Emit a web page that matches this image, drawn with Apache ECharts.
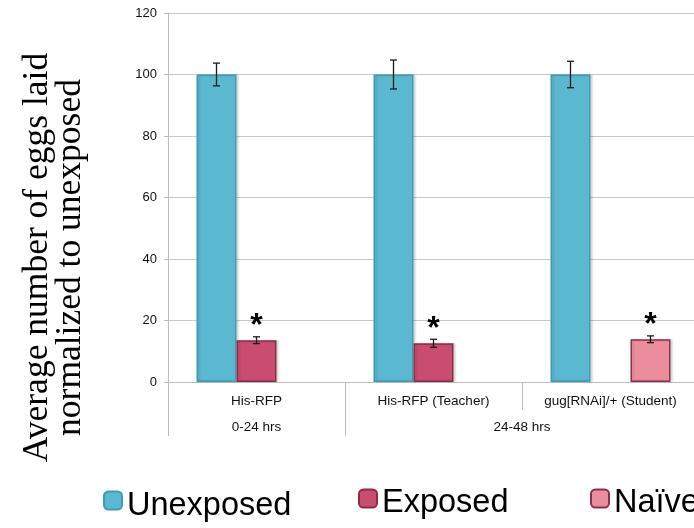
<!DOCTYPE html>
<html>
<head>
<meta charset="utf-8">
<script src="https://cdn.jsdelivr.net/npm/echarts@6/dist/echarts.min.js"></script>
<style>
html,body{margin:0;padding:0;background:#fff;}
#chart{width:694px;height:528px;}
</style>
</head>
<body>
<div id="chart"></div>
<script>
// ---- data ----
const categories = ['His-RFP', 'His-RFP (Teacher)', 'gug[RNAi]/+ (Student)'];
const groupLabels = ['', '0-24 hrs', '', '', '24-48 hrs', '', ''];
const seriesNames = ['Unexposed', 'Exposed', 'Naïve'];
const unexposed = [100, 100, 100];
const unexposedErr = [3.7, 4.7, 4.3];
const exposed = [13.6, 12.6, null];
const exposedErr = [1.1, 1.3, null];
const naive = [null, null, 13.9];
const naiveErr = [null, null, 1.1];
const yTicks = {min: 0, max: 120, interval: 20};

// ---- styling ----
const BAR_W = 40;
const colors = {
  Unexposed: {fill: '#5bb8d1', border: '#3f9bb2'},
  Exposed: {fill: '#c84d70', border: '#8a2c48'},
  'Naïve': {fill: '#ec8d9e', border: '#8a3048'}
};
const FONT = 'Liberation Sans, Arial, Helvetica, sans-serif';

const values = [unexposed, exposed, naive];
const errs = [unexposedErr, exposedErr, naiveErr];

const errData = [];
values.forEach((arr, s) => {
  arr.forEach((v, i) => {
    if (v != null && errs[s][i] != null) errData.push([i, v, errs[s][i], s]);
  });
});

function barSeries(name, data, withStar) {
  return {
    name: name,
    type: 'bar',
    xAxisIndex: 0,
    barWidth: BAR_W,
    barGap: '0%',
    data: data.map(v => v == null ? '-' : v),
    itemStyle: {
      color: colors[name].fill,
      borderColor: colors[name].border,
      borderWidth: 1.5,
      shadowColor: 'rgba(0,0,0,0.12)',
      shadowBlur: 2,
      shadowOffsetX: 2
    },
    label: withStar ? {
      show: true,
      position: 'top',
      distance: -2,
      formatter: '*',
      fontSize: 32,
      fontWeight: 'bold',
      fontFamily: FONT,
      color: '#000'
    } : {show: false},
    z: 2
  };
}

function legendFor(name, left, top, padTop) {
  return {
    data: [name],
    left: left,
    top: top,
    orient: 'horizontal',
    icon: 'roundRect',
    itemWidth: 18,
    itemHeight: 18,
    itemGap: 0,
    padding: 0,
    itemStyle: {borderWidth: 2},
    formatter: n => '{t|' + n + '}',
    textStyle: {
      fontSize: 32.5, color: '#000', fontFamily: FONT,
      rich: {t: {fontSize: 32.5, color: '#000', fontFamily: FONT, padding: [padTop, 0, 0, 0]}}
    }
  };
}

const chart = echarts.init(document.getElementById('chart'), null, {renderer: 'canvas'});
chart.setOption({
  animation: false,
  backgroundColor: '#fff',
  textStyle: {fontFamily: FONT},
  grid: {left: 168, right: -5, top: 13, bottom: 146, containLabel: false, outerBoundsMode: 'none'},
  legend: [
    legendFor('Unexposed', 103, 490, 12),
    legendFor('Exposed', 358, 487, 10),
    legendFor('Naïve', 590, 487, 10)
  ],
  xAxis: [
    {
      type: 'category',
      data: categories,
      position: 'bottom',
      axisLine: {show: true, lineStyle: {color: '#bdbdbd', width: 1}},
      axisTick: {show: true, length: 28, interval: 0, lineStyle: {color: '#bdbdbd'}},
      axisLabel: {interval: 0, margin: 12, fontSize: 13.5, color: '#111', fontFamily: FONT},
      splitLine: {show: false}
    },
    {
      type: 'category',
      data: groupLabels,
      boundaryGap: false,
      position: 'bottom',
      gridIndex: 0,
      axisLine: {show: false},
      axisTick: {show: true, length: 54, interval: (i) => i === 0 || i === 2, lineStyle: {color: '#bdbdbd'}},
      axisLabel: {interval: 0, margin: 38, fontSize: 13.5, color: '#111', fontFamily: FONT},
      splitLine: {show: false}
    }
  ],
  yAxis: {
    type: 'value',
    min: yTicks.min,
    max: yTicks.max,
    interval: yTicks.interval,
    axisLine: {show: true, lineStyle: {color: '#bdbdbd'}},
    axisTick: {show: true, length: 4, lineStyle: {color: '#bdbdbd'}},
    splitLine: {show: true, lineStyle: {color: '#c8c8c8', width: 1.2}},
    axisLabel: {fontSize: 13, color: '#111', margin: 11, fontFamily: FONT},
    name: 'Average number of eggs laid\nnormalized to unexposed',
    nameLocation: 'middle',
    nameRotate: 90,
    nameGap: 81,
    nameTextStyle: {
      fontFamily: 'Liberation Serif, Times New Roman, serif',
      fontSize: 35.5,
      lineHeight: 33,
      color: '#000',
      padding: [0, 120, 0, 0]
    }
  },
  series: [
    barSeries('Unexposed', unexposed, false),
    barSeries('Exposed', exposed, true),
    barSeries('Naïve', naive, true),
    {
      type: 'custom',
      name: 'errors',
      xAxisIndex: 0,
      data: errData,
      z: 5,
      renderItem: function (params, api) {
        const i = api.value(0), v = api.value(1), e = api.value(2), s = api.value(3);
        const off = (s - 1) * BAR_W;
        const top = api.coord([i, v + e]);
        const bot = api.coord([i, v - e]);
        const x = top[0] + off;
        const cap = 3.5;
        const st = {stroke: '#1a1a1a', lineWidth: 1.3};
        return {
          type: 'group',
          children: [
            {type: 'line', shape: {x1: x, y1: top[1], x2: x, y2: bot[1]}, style: st},
            {type: 'line', shape: {x1: x - cap, y1: top[1], x2: x + cap, y2: top[1]}, style: st},
            {type: 'line', shape: {x1: x - cap, y1: bot[1], x2: x + cap, y2: bot[1]}, style: st}
          ]
        };
      }
    }
  ]
});
</script>
</body>
</html>
